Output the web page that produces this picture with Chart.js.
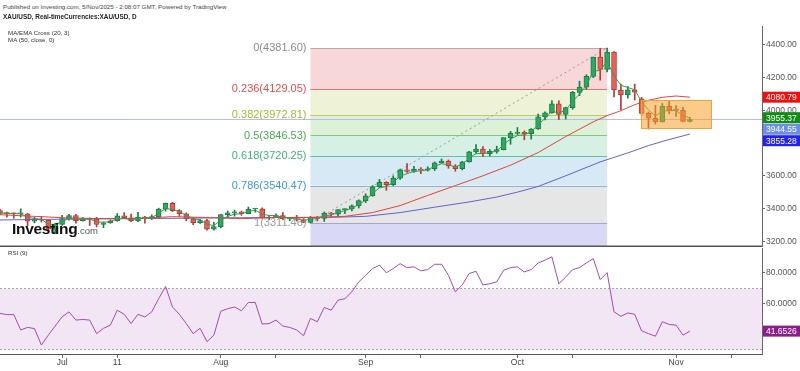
<!DOCTYPE html>
<html>
<head>
<meta charset="utf-8">
<script src="https://cdn.jsdelivr.net/npm/chart.js@4.4.1/dist/chart.umd.min.js"></script>
<style>
  body{margin:0;background:#fff;width:800px;height:371px;overflow:hidden;position:relative;font-family:"Liberation Sans",Arial,sans-serif}
  canvas{position:absolute;left:0}
  #main{top:26px}
  #rsi{top:247px}
  .t{position:absolute;white-space:nowrap;color:#333;z-index:5;line-height:1}
</style>
</head>
<body>
<div class="t" style="left:3px;top:4px;font-size:6.2px;color:#444">Published on Investing.com, 5/Nov/2025 - 2:08:07 GMT, Powered by TradingView</div>
<div class="t" style="left:3px;top:14px;font-size:6.4px;font-weight:bold;color:#222">XAU/USD, Real-timeCurrencies:XAU/USD, D</div>
<div class="t" style="left:8px;top:30px;font-size:6.2px">MA/EMA Cross (20, 3)</div>
<div class="t" style="left:8px;top:37px;font-size:6.2px">MA (50, close, 0)</div>
<div class="t" style="left:12px;top:221px;font-size:15.5px;font-weight:bold;color:#111;letter-spacing:-0.3px">Investing<span style="font-size:9.5px;font-weight:normal;color:#555;letter-spacing:0">.com</span></div>
<div class="t" style="left:8px;top:250px;font-size:6.2px">RSI (9)</div>
<canvas id="main" width="800" height="221"></canvas>
<canvas id="rsi" width="800" height="124"></canvas>
<script>
// trading days shown (index 0 = 18 Jun 2025)
const days = ['Jun 18','Jun 19','Jun 20','Jun 23','Jun 24','Jun 25','Jun 26','Jun 27','Jun 30',
  'Jul 1','Jul 2','Jul 3','Jul 4','Jul 7','Jul 8','Jul 9','Jul 10','Jul 11','Jul 14','Jul 15','Jul 16','Jul 17','Jul 18',
  'Jul 21','Jul 22','Jul 23','Jul 24','Jul 25','Jul 28','Jul 29','Jul 30','Jul 31',
  'Aug 1','Aug 4','Aug 5','Aug 6','Aug 7','Aug 8','Aug 11','Aug 12','Aug 13','Aug 14','Aug 15','Aug 18','Aug 19',
  'Aug 20','Aug 21','Aug 22','Aug 25','Aug 26','Aug 27','Aug 28','Aug 29',
  'Sep 1','Sep 2','Sep 3','Sep 4','Sep 5','Sep 8','Sep 9','Sep 10','Sep 11','Sep 12','Sep 15','Sep 16','Sep 17','Sep 18',
  'Sep 19','Sep 22','Sep 23','Sep 24','Sep 25','Sep 26','Sep 29','Sep 30',
  'Oct 1','Oct 2','Oct 3','Oct 6','Oct 7','Oct 8','Oct 9','Oct 10','Oct 13','Oct 14','Oct 15','Oct 16','Oct 17',
  'Oct 20','Oct 21','Oct 22','Oct 23','Oct 24','Oct 27','Oct 28','Oct 29','Oct 30','Oct 31',
  'Nov 3','Nov 4','Nov 5'];

const opens = [3388,3370,3369,3368,3368,3323,3333,3328,3274,
  3303,3338,3357,3326,3337,3336,3302,3313,3325,3355,3343,3324,3347,3338,
  3350,3396,3431,3387,3368,3337,3314,3326,3274,
  3289,3363,3373,3380,3369,3397,3398,3342,3348,3356,3336,3336,3332,
  3315,3347,3339,3372,3365,3393,3397,3416,
  3448,3477,3533,3560,3545,3586,3636,3627,3641,3634,3643,3679,3690,3660,
  3643,3685,3746,3764,3736,3749,3760,3833,
  3859,3866,3857,3886,3960,3985,4040,3975,4017,4110,4142,4208,4326,
  4251,4356,4125,4095,4126,4070,3982,3952,3930,4025,
  4002,4000,3932];
const highs = [3395,3378,3374,3398,3370,3347,3350,3330,3310,
  3358,3365,3365,3345,3342,3346,3318,3330,3369,3375,3366,3377,3352,3361,
  3402,3433,3438,3393,3373,3345,3334,3334,3315,
  3363,3385,3390,3384,3409,3400,3404,3358,3368,3375,3345,3358,3345,
  3351,3351,3379,3376,3393,3398,3423,3453,
  3490,3540,3578,3564,3600,3641,3674,3658,3650,3655,3685,3703,3697,3668,
  3688,3749,3791,3779,3761,3781,3834,3872,
  3895,3875,3889,3977,3991,4060,4059,4020,4116,4179,4218,4326,4380,
  4381.6,4359,4161,4146,4161,4080,3990,4030,4042,4055,
  4030,4019,3958];
const lows = [3362,3347,3340,3347,3295,3312,3317,3255,3247,
  3296,3328,3311,3323,3296,3287,3283,3309,3322,3341,3320,3320,3310,3332,
  3340,3384,3381,3351,3325,3301,3308,3268,3268,
  3281,3346,3353,3358,3367,3378,3341,3331,3344,3330,3325,3323,3314,
  3311.46,3324,3321,3352,3352,3368,3385,3403,
  3436,3475,3528,3511,3540,3578,3620,3620,3613,3629,3632,3676,3646,3628,
  3636,3683,3736,3717,3722,3738,3758,3793,
  3852,3820,3824,3884,3942,3983,3944,3947,4007,4090,4130,4200,4185,
  4236,4082,4004,4075,4064,3971,3886,3917,3929,3980,
  3963,3929,3930];
const closes = [3370,3369,3368,3368,3323,3333,3328,3274,3303,
  3338,3357,3326,3337,3336,3302,3313,3325,3355,3343,3324,3347,3338,3350,
  3396,3431,3387,3368,3337,3314,3326,3274,3289,
  3363,3373,3380,3369,3397,3398,3342,3348,3356,3336,3336,3332,3315,
  3347,3339,3372,3365,3393,3397,3416,3448,
  3477,3533,3560,3545,3586,3636,3627,3641,3634,3643,3679,3690,3660,3643,
  3685,3746,3764,3736,3749,3760,3833,3859,
  3866,3857,3886,3960,3985,4040,3975,4017,4110,4142,4208,4326,4251,
  4356,4125,4095,4126,4112,3982,3952,3930,4025,4002,
  4000,3932,3944.55];

// MA/EMA cross (20, 3): fast green line and slow red line
const emaFast = [3372,3370,3369,3368,3346,3339,3334,3304,3303,
  3320,3339,3332,3335,3335,3319,3316,3320,3338,3340,3332,3340,3339,3344,
  3370,3400,3394,3381,3359,3337,3331,3303,3296,
  3329,3351,3366,3367,3382,3390,3366,3357,3357,3346,3341,3337,3326,
  3336,3338,3355,3360,3376,3387,3401,3425,
  3451,3492,3526,3535,3560,3598,3613,3627,3630,3637,3658,3674,3667,3655,
  3670,3708,3736,3736,3742,3751,3792,3825,
  3846,3851,3868,3914,3950,3995,3985,4001,4056,4099,4153,4240,4245,
  4300,4213,4154,4140,4126,4054,4003,3966,3996,3999,
  3999,3966,3955.37];
const ma20Idx = [0,5,10,15,20,25,30,35,40,45,50,54,58,62,66,70,74,78,82,86,88,90,92,94,96,98,100];
const ma20Val = [3362,3352,3342,3338,3340,3350,3345,3338,3345,3345,3352,3375,3418,3480,3540,3600,3665,3742,3840,3930,3968,3998,4035,4062,4080,4088,4080.79];
// MA (50)
const ma50Idx = [0,10,20,30,40,48,53,58,63,68,72,75,78,82,87,91,94,97,100];
const ma50Val = [3330,3335,3338,3342,3345,3346,3352,3375,3408,3440,3470,3500,3535,3600,3685,3740,3785,3822,3855.28];

// RSI (9)
const rsi = [53.3,52.5,52.5,42.4,44.1,43.3,32.5,39,45,51,54.3,48.9,49.3,48.9,40,43.5,45.6,55.4,52.7,46.6,
  52.7,51,54.3,63,71,57.5,52.7,46.6,40,43.5,34.7,39,54.7,56.4,57.5,55,60.5,60.5,46.3,46.6,
  48.9,45,44.1,42.4,38.6,50,47.8,57.2,55.4,62,63,67.5,74,78.4,82.8,85,80,82.8,86,83.4,
  83.9,81.3,82.1,85.6,85.6,78.4,67.5,72,79.5,81,72,72.8,74,81.7,83.4,83.9,80.6,82.1,86.5,88.3,
  90.5,72.8,77.2,82.1,83.4,86.5,89.3,75.5,80.1,54.3,51.4,53.6,52.7,41.8,40,38.3,47.8,46,45.6,39,
  41.6526];

// Fibonacci retracement drawn from the 20 Aug low to the 20 Oct high
const fibRatios = [0, 0.236, 0.382, 0.5, 0.618, 0.786, 1];
const fibPrices = [4381.60, 4129.05, 3972.81, 3846.53, 3720.25, 3540.47, 3311.46];
const fibExtPrice = 2650.0;
const fibIdx = [45, 88];
// orange consolidation box
const boxIdx = [92.9, 103.1];
const boxPrice = [3891, 4064];

const priceTicks = [3200, 3400, 3600, 3800, 4000, 4200, 4400];
const rsiTicks = [40, 60, 80];
const xTickIdx = [9, 17, 32, 40, 53, 61, 75, 83, 98, 106];
const xTickText = ['Jul', '11', 'Aug', '', 'Sep', '', 'Oct', '', 'Nov', ''];

const xMin = 0, xMax = 110.45;
const FONT = '"Liberation Sans", Arial, sans-serif';
const zoneColors = ['#f7d7d7','#eef3d7','#dcf1d8','#d6f0e6','#d7e9f4','#e6e6e6','#d9d9f6'];
const levelColors = ['#b8a8a8','#e57373','#b9cc5c','#7dca7d','#5cc6a0','#82b8d8','#a6a6cc'];
const labelColors = ['#8a8a8a','#e04e4e','#a5ba35','#46ad4c','#3fb37a','#3a98d6','#9a9a9a'];

const up = i => closes[i] >= opens[i];
const bodyFill = closes.map((c, i) => up(i) ? '#2bab62' : '#e8605a');
const bodyEdge = closes.map((c, i) => up(i) ? '#1c7a45' : '#b03c37');

// keep tick labels from pushing the plot area in
const noPad = s => { s.paddingTop = 0; s.paddingBottom = 0; s.paddingLeft = 0; s.paddingRight = 0; };

const mainPlugin = {
  id: 'fibs',
  beforeDatasetsDraw(chart) {
    const { ctx, chartArea: a, scales: { x, y } } = chart;
    const x0 = x.getPixelForValue(fibIdx[0]), x1 = x.getPixelForValue(fibIdx[1]);
    const lv = fibPrices.concat([fibExtPrice]);
    ctx.save();
    ctx.beginPath(); ctx.rect(a.left, a.top, a.width, a.height); ctx.clip();
    for (let i = 0; i < lv.length - 1; i++) {
      const ya = y.getPixelForValue(lv[i]), yb = y.getPixelForValue(lv[i + 1]);
      ctx.fillStyle = zoneColors[i];
      ctx.fillRect(x0, ya, x1 - x0, yb - ya);
    }
    fibPrices.forEach((p, i) => {
      const yy = Math.round(y.getPixelForValue(p)) + 0.5;
      ctx.strokeStyle = levelColors[i]; ctx.lineWidth = 1;
      ctx.beginPath(); ctx.moveTo(x0, yy); ctx.lineTo(x1, yy); ctx.stroke();
    });
    ctx.restore();
  },
  afterDatasetsDraw(chart) {
    const { ctx, chartArea: a, scales: { x, y } } = chart;
    ctx.save();
    const bx0 = x.getPixelForValue(boxIdx[0]), bx1 = x.getPixelForValue(boxIdx[1]);
    const by0 = y.getPixelForValue(boxPrice[1]), by1 = y.getPixelForValue(boxPrice[0]);
    ctx.fillStyle = 'rgba(245,160,40,0.55)';
    ctx.fillRect(bx0, by0, bx1 - bx0, by1 - by0);
    ctx.strokeStyle = '#f2a23a'; ctx.lineWidth = 1;
    ctx.strokeRect(Math.round(bx0) + 0.5, Math.round(by0) + 0.5, Math.round(bx1 - bx0), Math.round(by1 - by0));
    // fib labels
    const lx = x.getPixelForValue(fibIdx[0]) - 4;
    ctx.font = '11px ' + FONT; ctx.textAlign = 'right'; ctx.textBaseline = 'middle';
    fibRatios.forEach((r, i) => {
      ctx.fillStyle = labelColors[i];
      ctx.fillText(r + '(' + fibPrices[i].toFixed(2) + ')', lx, y.getPixelForValue(fibPrices[i]));
    });
    ctx.restore();
  },
  afterDraw(chart) {
    const { ctx, chartArea: a, scales: { y } } = chart;
    ctx.save();
    ctx.strokeStyle = '#555'; ctx.lineWidth = 1.5;
    ctx.beginPath(); ctx.moveTo(0, a.bottom - 0.75); ctx.lineTo(a.right, a.bottom - 0.75); ctx.stroke();
    const tags = [
      { v: ma20Val[ma20Val.length - 1], bg: '#f01010' },
      { v: emaFast[emaFast.length - 1], bg: '#118a17' },
      { v: closes[closes.length - 1], bg: '#6b8fe6' },
      { v: ma50Val[ma50Val.length - 1], bg: '#2424e8' }
    ].sort((p, q) => q.v - p.v);
    let prev = -1e9;
    ctx.font = '8.5px ' + FONT; ctx.textAlign = 'left'; ctx.textBaseline = 'middle';
    tags.forEach(t => {
      let yy = y.getPixelForValue(t.v);
      if (yy < prev + 11.5) yy = prev + 11.5;
      prev = yy;
      ctx.fillStyle = t.bg; ctx.fillRect(a.right + 1, yy - 5.5, 40, 11);
      ctx.fillStyle = '#fff'; ctx.fillText(t.v.toFixed(2), a.right + 4, yy + 0.5);
    });
    ctx.restore();
  }
};

const ptsIdx = (idx, vals) => idx.map((i, k) => ({ x: i, y: vals[k] }));
const lineDs = (data, color, order, extra) => Object.assign({
  type: 'line', data, borderColor: color, borderWidth: 1, pointRadius: 0, tension: 0, order, fill: false
}, extra || {});

new Chart(document.getElementById('main'), {
  type: 'bar',
  data: {
    datasets: [
      lineDs(emaFast.map((v, i) => ({ x: i, y: v })), '#3c9a4c', 1),
      lineDs(ptsIdx(ma20Idx, ma20Val), '#e0453a', 2),
      lineDs(ptsIdx(ma50Idx, ma50Val), '#6262d2', 3),
      { type: 'bar', data: opens.map((o, i) => ({ x: i, y: [o, closes[i]] })), backgroundColor: bodyFill, borderColor: bodyEdge,
        borderWidth: 1, borderSkipped: false, barThickness: 5, minBarLength: 1, grouped: false, order: 4 },
      { type: 'bar', data: lows.map((l, i) => ({ x: i, y: [l, highs[i]] })), backgroundColor: bodyEdge,
        borderWidth: 0, barThickness: 1, grouped: false, order: 5 },
      lineDs([{ x: xMin, y: closes[closes.length - 1] }, { x: xMax, y: closes[closes.length - 1] }], '#b4bbe8', 6),
      lineDs([{ x: fibIdx[0], y: fibPrices[6] }, { x: fibIdx[1], y: fibPrices[0] }], '#9a9a9a', 7, { borderDash: [2, 3] })
    ]
  },
  options: {
    responsive: false, animation: false, events: [],
    layout: { padding: 0, autoPadding: false },
    plugins: { legend: { display: false }, tooltip: { enabled: false } },
    scales: {
      x: { type: 'linear', min: xMin, max: xMax, offset: false, display: false, grid: { offset: false }, afterFit: noPad },
      y: {
        position: 'right', min: 3164.5, max: 4516.2,
        afterFit(s) { s.width = 38; noPad(s); },
        afterBuildTicks(s) { s.ticks = priceTicks.map(v => ({ value: v })); },
        ticks: { callback: v => Number(v).toFixed(2), font: { size: 8.5, family: FONT }, color: '#555', padding: 1 },
        grid: { drawOnChartArea: false, drawTicks: true, tickLength: 3, color: '#666' },
        border: { display: true, color: '#666' }
      }
    }
  },
  plugins: [mainPlugin]
});

const rsiPlugin = {
  id: 'rsiBand',
  beforeDatasetsDraw(chart) {
    const { ctx, chartArea: a, scales: { y } } = chart;
    const y70 = Math.round(y.getPixelForValue(70)) + 0.5, y30 = Math.round(y.getPixelForValue(30)) + 0.5;
    ctx.save();
    ctx.fillStyle = '#f2e5f4';
    ctx.fillRect(a.left, y70, a.width, y30 - y70);
    ctx.strokeStyle = '#a8a8a8'; ctx.lineWidth = 1; ctx.setLineDash([2, 2]);
    [y70, y30].forEach(v => { ctx.beginPath(); ctx.moveTo(a.left, v); ctx.lineTo(a.right, v); ctx.stroke(); });
    ctx.restore();
  },
  afterDraw(chart) {
    const { ctx, chartArea: a, scales: { y } } = chart;
    const v = rsi[rsi.length - 1], yy = y.getPixelForValue(v);
    ctx.save();
    ctx.fillStyle = '#8c1d8c'; ctx.fillRect(a.right + 1, yy - 5.5, 40, 11);
    ctx.fillStyle = '#fff'; ctx.font = '8.5px ' + FONT; ctx.textBaseline = 'middle';
    ctx.fillText(v.toFixed(4), a.right + 4, yy + 0.5);
    ctx.restore();
  }
};

new Chart(document.getElementById('rsi'), {
  type: 'line',
  data: { datasets: [lineDs(rsi.map((v, i) => ({ x: i, y: v })), '#a04db4', 1)] },
  options: {
    responsive: false, animation: false, events: [],
    layout: { padding: { top: 1 }, autoPadding: false },
    plugins: { legend: { display: false }, tooltip: { enabled: false } },
    scales: {
      x: {
        type: 'linear', min: xMin, max: xMax,
        afterFit(s) { s.height = 17; noPad(s); },
        afterBuildTicks(s) { s.ticks = xTickIdx.map(v => ({ value: v })); },
        ticks: { autoSkip: false, maxRotation: 0, padding: 0, color: '#444', font: { size: 8.5, family: FONT },
          callback: v => xTickText[xTickIdx.indexOf(v)] },
        grid: { drawOnChartArea: false, drawTicks: true, tickLength: 4, color: '#666' },
        border: { display: true, color: '#555' }
      },
      y: {
        position: 'right', min: 26.6, max: 96.3,
        afterFit(s) { s.width = 38; noPad(s); },
        afterBuildTicks(s) { s.ticks = rsiTicks.map(v => ({ value: v })); },
        ticks: { callback: v => Number(v).toFixed(4), font: { size: 8.5, family: FONT }, color: '#555', padding: 1 },
        grid: { drawOnChartArea: false, drawTicks: true, tickLength: 3, color: '#666' },
        border: { display: true, color: '#666' }
      }
    }
  },
  plugins: [rsiPlugin]
});
</script>
</body>
</html>
